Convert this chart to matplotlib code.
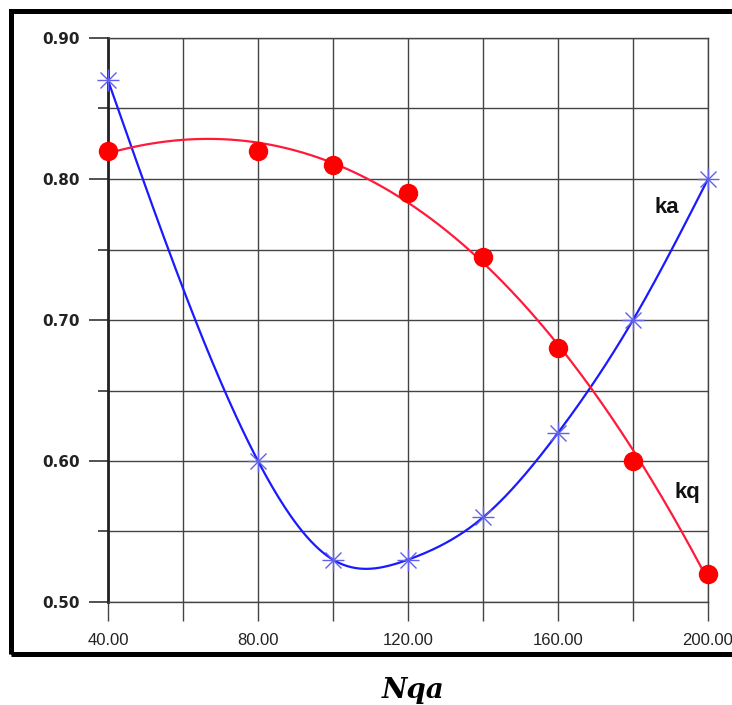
import numpy as np
import matplotlib.pyplot as plt
from matplotlib.patches import Rectangle
from matplotlib.ticker import MultipleLocator, FormatStrFormatter

# Data
nqa = [40, 80, 100, 120, 140, 160, 180, 200]
ka = [0.87, 0.60, 0.53, 0.53, 0.56, 0.62, 0.70, 0.80]
kq = [0.82, 0.82, 0.81, 0.79, 0.745, 0.68, 0.60, 0.52]


def trend(x, y, deg, n=300):
    """Polynomial trend line over the data range."""
    c = np.polyfit(x, y, deg)
    xs = np.linspace(min(x), max(x), n)
    return xs, np.polyval(c, xs)


def natural_spline(x, y, n=300):
    """Natural cubic spline through the points."""
    x = np.asarray(x, float)
    y = np.asarray(y, float)
    k = len(x)
    h = np.diff(x)
    A = np.zeros((k, k))
    b = np.zeros(k)
    A[0, 0] = A[-1, -1] = 1.0
    for i in range(1, k - 1):
        A[i, i - 1] = h[i - 1]
        A[i, i] = 2 * (h[i - 1] + h[i])
        A[i, i + 1] = h[i]
        b[i] = 6 * ((y[i + 1] - y[i]) / h[i] - (y[i] - y[i - 1]) / h[i - 1])
    m = np.linalg.solve(A, b)
    xs = np.linspace(x[0], x[-1], n)
    idx = np.clip(np.searchsorted(x, xs) - 1, 0, k - 2)
    x0, x1 = x[idx], x[idx + 1]
    hh = x1 - x0
    t0, t1 = x1 - xs, xs - x0
    ys = (m[idx] * t0**3 + m[idx + 1] * t1**3) / (6 * hh) \
        + (y[idx] / hh - m[idx] * hh / 6) * t0 \
        + (y[idx + 1] / hh - m[idx + 1] * hh / 6) * t1
    return xs, ys


plt.rcParams['font.family'] = ['Liberation Sans', 'DejaVu Sans']

fig = plt.figure(figsize=(7.32, 7.05), dpi=100)
ax = fig.add_axes([108 / 732, 1 - 602 / 705, 600 / 732, 564 / 705])

ax.set_xlim(40, 200)
ax.set_ylim(0.50, 0.90)

# grid
ax.xaxis.set_major_locator(MultipleLocator(40))
ax.xaxis.set_minor_locator(MultipleLocator(20))
ax.yaxis.set_major_locator(MultipleLocator(0.10))
ax.yaxis.set_minor_locator(MultipleLocator(0.05))
ax.xaxis.set_major_formatter(FormatStrFormatter('%.2f'))
ax.yaxis.set_major_formatter(FormatStrFormatter('%.2f'))
ax.grid(True, which='both', color='#444444', linewidth=1.0)
ax.set_axisbelow(True)

for side in ['top', 'right', 'bottom']:
    ax.spines[side].set_color('#444444')
    ax.spines[side].set_linewidth(1.0)
ax.spines['left'].set_color('#222222')
ax.spines['left'].set_linewidth(2.0)

ax.tick_params(axis='x', which='both', length=14, width=1.0, color='#444444',
               pad=8, labelcolor='#222222')
ax.tick_params(axis='y', which='major', length=14, width=1.2, color='#333333',
               pad=6, labelcolor='#222222')
ax.tick_params(axis='y', which='minor', length=7, width=1.2, color='#333333')
for lab in ax.get_xticklabels():
    lab.set_family(['Liberation Sans Narrow', 'Liberation Sans'])
    lab.set_fontsize(12)
for lab in ax.get_yticklabels():
    lab.set_family(['DejaVu Sans'])
    lab.set_fontsize(11)
    lab.set_fontweight('bold')

# ka: smooth curve through the points
xs, ys = natural_spline(nqa, ka)
ax.plot(xs, ys, color='#1a1aff', linewidth=1.6, zorder=3)
ax.plot(nqa, ka, linestyle='none', marker='+', markersize=16,
        markeredgewidth=1.0, color='#6060e8', zorder=4, clip_on=False)
ax.plot(nqa, ka, linestyle='none', marker='x', markersize=12,
        markeredgewidth=1.0, color='#6060e8', zorder=4, clip_on=False)

# kq: cubic trend line
xs, ys = trend(nqa, kq, 3)
ax.plot(xs, ys, color='#ff1a3c', linewidth=1.6, zorder=3)
ax.plot(nqa, kq, linestyle='none', marker='o', markersize=14,
        color='#ff0000', markeredgewidth=0, zorder=5, clip_on=False)

ax.text(189, 0.78, 'ka', fontsize=16, fontweight='bold', color='#111111',
        ha='center', va='center')
ax.text(194.5, 0.578, 'kq', fontsize=16, fontweight='bold', color='#111111',
        ha='center', va='center')

# thick frame round the chart
fig.patches.append(Rectangle((10.5 / 732, 1 - 654 / 705), 740 / 732, 643 / 705,
                             transform=fig.transFigure, fill=False,
                             edgecolor='black', linewidth=3.6, zorder=10))

fig.text(413 / 732, 1 - 690 / 705, 'Nqa', fontsize=20, fontweight='bold',
         style='italic', family=['DejaVu Serif'], ha='center', va='center')

fig.savefig('out.png', dpi=100)
